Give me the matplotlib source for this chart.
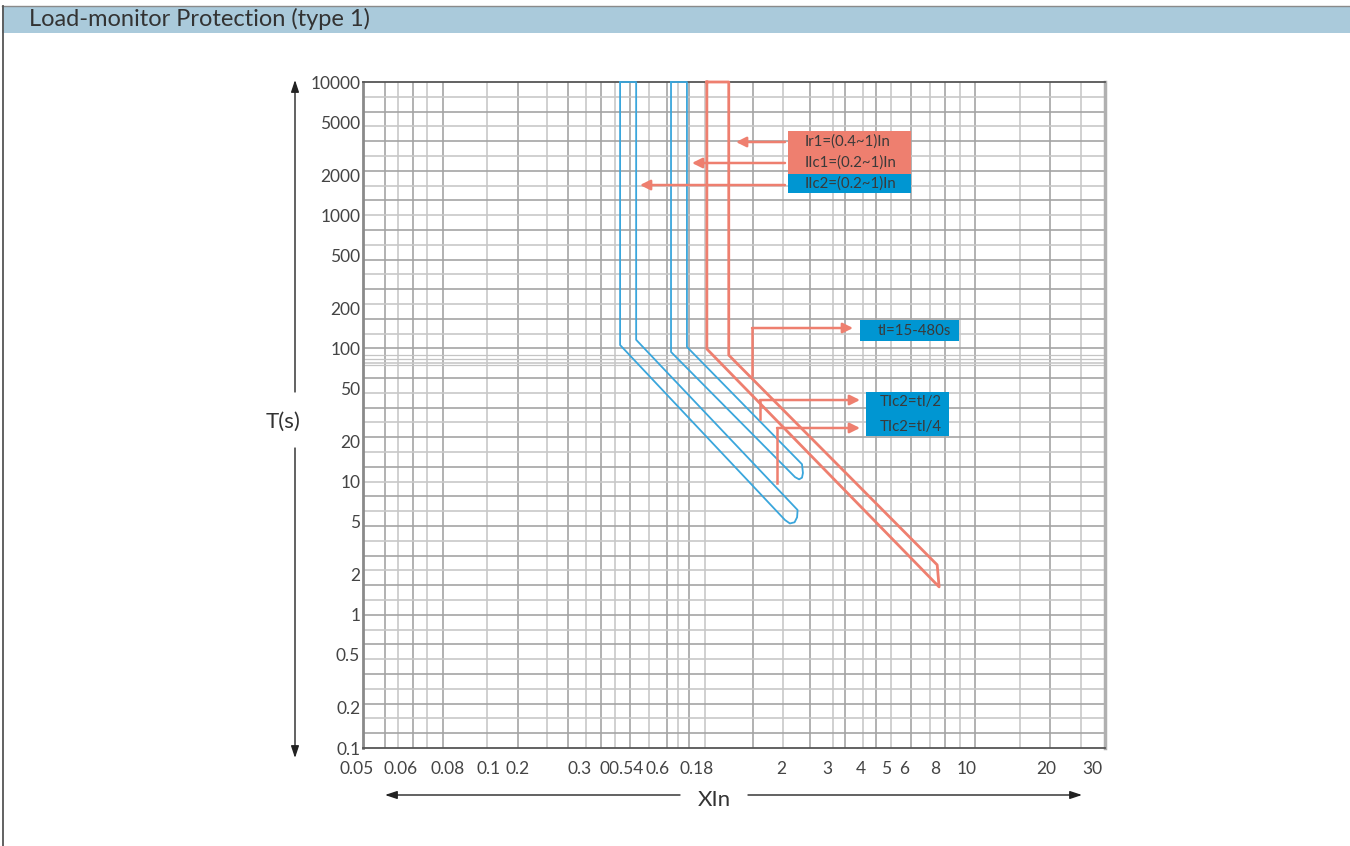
import matplotlib
matplotlib.use('Agg')
import matplotlib.pyplot as plt
from matplotlib.patches import Rectangle, FancyArrowPatch
from matplotlib.lines import Line2D
import matplotlib.transforms as mtransforms
import numpy as np

plt.rcParams['font.family'] = ['Lato', 'DejaVu Sans']

# ---- data (multiples of In, seconds) ----
ilc2_I = [0.494, 0.494, 2.07, 2.16, 2.25, 2.30, 2.31, 0.568, 0.568, 0.494]
ilc2_t = [10000, 106, 5.15, 4.85, 4.95, 5.40, 6.12, 116, 10000, 10000]

ilc1_I = [0.769, 0.769, 2.26, 2.34, 2.40, 2.42, 2.40, 0.883, 0.883, 0.769]
ilc1_t = [10000, 94, 10.8, 10.4, 10.7, 11.6, 13.5, 102.6, 10000, 10000]

ir1_I = [1.05, 1.05, 7.9, 7.77, 1.27, 1.27, 1.05]
ir1_t = [10000, 99, 1.62, 2.37, 89, 10000, 10000]

y_ticks = [0.1, 0.2, 0.5, 1, 2, 5, 10, 20, 50, 100, 200, 500, 1000, 2000, 5000, 10000]
y_labels = ['0.1', '0.2', '0.5', '1', '2', '5', '10', '20', '50', '100', '200',
            '500', '1000', '2000', '5000', '10000']

x_label_pos = [0.0502, 0.0736, 0.110, 0.157, 0.202, 0.349, 0.499, 0.687, 0.964,
               2, 3, 4, 5, 5.83, 7.62, 10, 20, 30]
x_labels = ['0.05', '0.06', '0.08', '0.1', '0.2', '0.3', '00.54', '0.6', '0.18',
            '2', '3', '4', '5', '6', '8', '10', '20', '30']

grid_x = [0.064, 0.072, 0.082, 0.092, 0.106, 0.155, 0.204, 0.262, 0.314, 0.367,
          0.419, 0.473, 0.538, 0.635, 0.743, 0.817, 0.899, 1.03, 1.57, 2.04, 2.57,
          3.14, 3.49, 4.08, 4.57, 5.20, 6.19, 7.30, 8.31, 9.47, 10.8, 16.0, 20.7, 27.1]
grid_y_extra = [75, 83, 89]

RED = '#EE7F6F'
BLUE = '#3AA6DC'
BOX_BLUE = '#0096D2'
TXT = '#3a3a3a'

fig = plt.figure(figsize=(13.5, 8.46), dpi=100)

# title bar and frame
fig.add_artist(Rectangle((2 / 1350, 1 - 33 / 846), 1, 27 / 846, transform=fig.transFigure,
                         facecolor='#AACADB', edgecolor='none'))
fig.add_artist(Line2D([2 / 1350, 1], [1 - 6 / 846] * 2, transform=fig.transFigure,
                      color='#8a8a8a', lw=1))
fig.add_artist(Line2D([3 / 1350] * 2, [0, 1 - 6 / 846], transform=fig.transFigure,
                      color='#555555', lw=1.3))
fig.text(29 / 1350, 1 - 19 / 846, 'Load-monitor Protection (type 1)', fontsize=17,
         color='#333333', va='center', ha='left')

ax = fig.add_axes([363 / 1350, 1 - 748 / 846, 742 / 1350, 666 / 846])
ax.set_xscale('log')
ax.set_yscale('log')
ax.set_xlim(0.0529, 33.4)
ax.set_ylim(0.1, 10000)

# grid
grid_y = np.logspace(-1, 4, 46)[1:-1]
for i, gx in enumerate(grid_x):
    ax.axvline(gx, color='#a4a4a4' if i % 2 == 0 else '#c8c8c8', lw=1.2, zorder=1)
for i, gy in enumerate(grid_y):
    ax.axhline(gy, color='#a4a4a4' if i % 2 == 0 else '#c8c8c8', lw=1.2, zorder=1)
for gy in grid_y_extra:
    ax.axhline(gy, color='#c4c4c4', lw=0.9, zorder=1)

ax.set_yticks(y_ticks)
ax.set_yticklabels(y_labels)
ax.yaxis.set_minor_locator(matplotlib.ticker.NullLocator())
ax.xaxis.set_minor_locator(matplotlib.ticker.NullLocator())
ax.set_xticks([])
ax.tick_params(axis='y', length=0, pad=2, labelsize=12.5, labelcolor='#444444')

for sp in ['top', 'bottom']:
    ax.spines[sp].set_color('#555555')
    ax.spines[sp].set_linewidth(1.3)
ax.spines['left'].set_color('#8a8a8a')
ax.spines['left'].set_linewidth(2)
ax.spines['right'].set_color('#b0b0b0')
ax.spines['right'].set_linewidth(2.5)

trans_x = mtransforms.blended_transform_factory(ax.transData, ax.transAxes)
for xv, lab in zip(x_label_pos, x_labels):
    ax.text(xv, -0.032, lab, transform=trans_x, ha='center', va='center',
            fontsize=12.5, color='#444444')

# curves
ax.plot(ilc2_I, ilc2_t, color=BLUE, lw=1.3, zorder=3, clip_on=False)
ax.plot(ilc1_I, ilc1_t, color=BLUE, lw=1.3, zorder=3, clip_on=False)
ax.plot(ir1_I, ir1_t, color=RED, lw=2, zorder=3, clip_on=False)

# annotation boxes (axes fraction layout)
def box(x0, y0, x1, y1, color):
    ax.add_patch(Rectangle((x0, y0), x1 - x0, y1 - y0, transform=ax.transAxes,
                           facecolor=color, edgecolor='none', zorder=5))

def arrow(x0, y0, x1, y1):
    ax.annotate('', xy=(x1, y1), xytext=(x0, y0), xycoords='axes fraction',
                textcoords='axes fraction', zorder=6,
                arrowprops=dict(arrowstyle='-|>,head_length=0.5,head_width=0.25',
                                color=RED, lw=1.8, mutation_scale=12,
                                shrinkA=0, shrinkB=0))

box(0.5728, 0.8619, 0.7385, 0.9264, RED)
box(0.5728, 0.8333, 0.7385, 0.8619, BOX_BLUE)
tk = dict(transform=ax.transAxes, fontsize=10.8, color=TXT, va='center', ha='left',
          zorder=7)
ax.text(0.5957, 0.9099, 'Ir1=(0.4~1)In', **tk)
ax.text(0.5957, 0.8784, 'IIc1=(0.2~1)In', **tk)
ax.text(0.5957, 0.8468, 'IIc2=(0.2~1)In', **tk)
arrow(0.5687, 0.9099, 0.5027, 0.9099)
arrow(0.5687, 0.8784, 0.4434, 0.8784)
arrow(0.5687, 0.8453, 0.3733, 0.8453)

box(0.6698, 0.6111, 0.8032, 0.6426, BOX_BLUE)
ax.text(0.6940, 0.6268, 'tl=15-480s', **tk)
ax.plot([0.5243, 0.5243], [0.5601, 0.6306], transform=ax.transAxes, color=RED, lw=1.8, zorder=6)
arrow(0.5243, 0.6306, 0.6604, 0.6306)

box(0.6779, 0.4685, 0.7898, 0.5345, BOX_BLUE)
ax.text(0.6968, 0.5195, 'TIc2=tl/2', **tk)
ax.text(0.6968, 0.4820, 'TIc2=tl/4', **tk)
ax.plot([0.5350, 0.5350], [0.4940, 0.5225], transform=ax.transAxes, color=RED, lw=1.8, zorder=6)
arrow(0.5350, 0.5225, 0.6698, 0.5225)
ax.plot([0.5580, 0.5580], [0.3979, 0.4805], transform=ax.transAxes, color=RED, lw=1.8, zorder=6)
arrow(0.5580, 0.4805, 0.6698, 0.4805)

# axis titles with arrows
ff = fig.transFigure
ax_kw = dict(arrowstyle='-|>,head_length=0.6,head_width=0.2', color='#222222', lw=1,
             mutation_scale=12, shrinkA=0, shrinkB=0)
fig.text(283 / 1350, 1 - 422 / 846, 'T(s)', fontsize=16, color='#333333', ha='center',
         va='center')
fig.add_artist(FancyArrowPatch((295 / 1350, 1 - 392 / 846), (295 / 1350, 1 - 80 / 846),
                               transform=ff, **ax_kw))
fig.add_artist(FancyArrowPatch((295 / 1350, 1 - 448 / 846), (295 / 1350, 1 - 758 / 846),
                               transform=ff, **ax_kw))
fig.text(714 / 1350, 1 - 800 / 846, 'XIn', fontsize=16, color='#333333', ha='center',
         va='center')
fig.add_artist(FancyArrowPatch((680 / 1350, 1 - 795 / 846), (385 / 1350, 1 - 795 / 846),
                               transform=ff, **ax_kw))
fig.add_artist(FancyArrowPatch((748 / 1350, 1 - 795 / 846), (1082 / 1350, 1 - 795 / 846),
                               transform=ff, **ax_kw))

fig.savefig('out.png', dpi=100)
